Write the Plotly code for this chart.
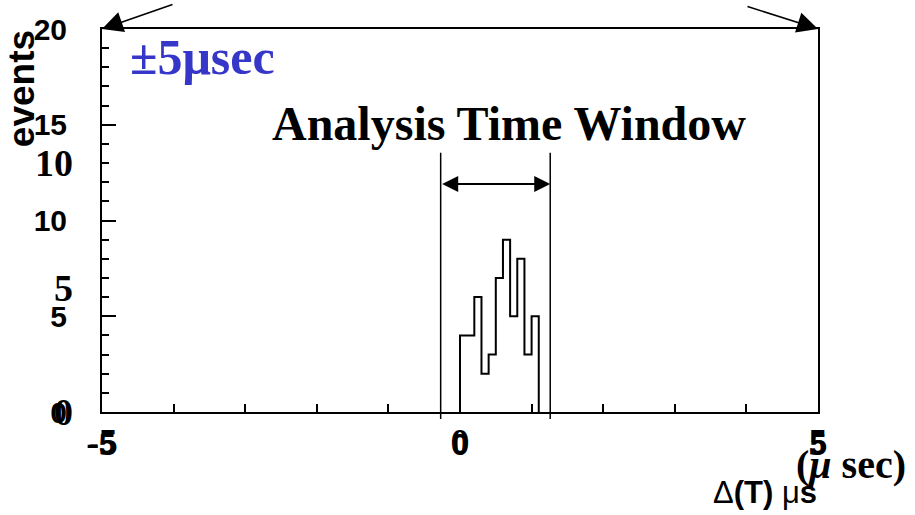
import plotly.graph_objects as go

# ---- data ----
bin_edges = [0.0, 0.1, 0.2, 0.3, 0.4, 0.5, 0.6, 0.7, 0.8, 0.9, 1.0, 1.1]
counts = [4, 4, 6, 2, 3, 7, 9, 5, 8, 3, 5]
window_lo, window_hi = -0.27, 1.26
x_ticks = [-5, 0, 5]
y_ticks_sans = [0, 5, 10, 15, 20]
y_ticks_serif = [0, 5, 10]

SANS = "Liberation Sans Narrow, Liberation Sans, Arial, sans-serif"
SERIF = "Liberation Serif, Times New Roman, serif"
BLUE = "#3636C8"

# step outline (ROOT style)
xs = [bin_edges[0]] + bin_edges[:-1] + [bin_edges[-1]]
ys = [0] + counts + [0]

fig = go.Figure()
fig.add_trace(go.Scatter(x=xs, y=ys, mode="lines", line=dict(color="black", width=2, shape="hv"),
                         showlegend=False, hoverinfo="skip"))
fig.add_trace(go.Scatter(x=[None], y=[None], xaxis="x2", yaxis="y2", showlegend=False))

fig.update_layout(
    width=915, height=515,
    margin=dict(l=102, r=97, t=22, b=103),
    paper_bgcolor="white", plot_bgcolor="white",
    xaxis=dict(range=[-5, 5], showline=True, linecolor="black", linewidth=2, mirror=True,
               showgrid=False, zeroline=False,
               tickvals=x_ticks, ticktext=[str(v) for v in x_ticks],
               ticks="inside", ticklen=8, tickwidth=1.5, tickcolor="black",
               minor=dict(dtick=1, ticks="inside", ticklen=8, tickwidth=1.5, tickcolor="black"),
               tickfont=dict(family=SANS, size=30, color="black", weight="bold"),
               ticklabelstandoff=4),
    xaxis2=dict(range=[-5, 5], overlaying="x", anchor="y", side="bottom", showline=False,
                showgrid=False, zeroline=False, ticks="",
                tickvals=x_ticks, ticktext=[str(v) for v in x_ticks],
                tickfont=dict(family=SERIF, size=38, color="black", weight="bold"),
                ticklabelstandoff=4),
    yaxis=dict(range=[0, 20], showline=True, linecolor="black", linewidth=2, mirror=True,
               showgrid=False, zeroline=False,
               tickvals=y_ticks_sans, ticktext=[str(v) for v in y_ticks_sans],
               ticks="inside", ticklen=14, tickwidth=1.5, tickcolor="black",
               minor=dict(dtick=1, ticks="inside", ticklen=7, tickwidth=1.5, tickcolor="black"),
               tickfont=dict(family=SANS, size=30, color="black", weight="bold"),
               ticklabelstandoff=27),
    yaxis2=dict(range=[0, 15.35], overlaying="y", anchor="x", side="left", showline=False,
                showgrid=False, zeroline=False, ticks="",
                tickvals=y_ticks_serif, ticktext=[str(v) for v in y_ticks_serif],
                tickfont=dict(family=SERIF, size=38, color="black", weight="bold"),
                ticklabelstandoff=28),
)

# analysis window lines
for xv in (window_lo, window_hi):
    fig.add_shape(type="line", xref="x", yref="paper", x0=xv, x1=xv, y0=-0.018, y1=0.677,
                  line=dict(color="black", width=1.5))

# double arrow
fig.add_annotation(x=window_hi, y=11.9, ax=window_lo, ay=11.9, xref="x", yref="y", axref="x", ayref="y",
                   text="", showarrow=True, arrowhead=2, arrowside="end+start", arrowsize=1.6,
                   arrowwidth=2, arrowcolor="black", standoff=0, startstandoff=0)

# corner arrows
fig.add_annotation(x=-5, y=20, xref="x", yref="y", ax=72, ay=-25, text="", showarrow=True,
                   arrowhead=2, arrowsize=2.6, arrowwidth=1.6, arrowcolor="black", standoff=0)
fig.add_annotation(x=5, y=20, xref="x", yref="y", ax=-72, ay=-23, text="", showarrow=True,
                   arrowhead=2, arrowsize=2.6, arrowwidth=1.6, arrowcolor="black", standoff=0)

# texts
fig.add_annotation(x=0.68, y=15.05, xref="x", yref="y", text="<b>Analysis Time Window</b>",
                   showarrow=False, xanchor="center", yanchor="middle",
                   font=dict(family=SERIF, size=48, color="black"))
fig.add_annotation(x=-4.63, y=18.55, xref="x", yref="y", text="<b>±5μsec</b>",
                   showarrow=False, xanchor="left", yanchor="middle",
                   font=dict(family=SERIF, size=50, color=BLUE))
fig.add_annotation(x=-0.112, y=0.845, xref="paper", yref="paper", text="<b>events</b>", textangle=-90,
                   showarrow=False, xanchor="center", yanchor="middle",
                   font=dict(family=SANS, size=37, color="black"))
fig.add_annotation(x=0.926, y=-0.21, xref="paper", yref="paper", text="Δ<b>(T)</b> μ<b>s</b>",
                   showarrow=False, xanchor="center", yanchor="middle",
                   font=dict(family=SANS, size=31, color="black"))
fig.add_annotation(x=1.046, y=-0.136, xref="paper", yref="paper", text="<b>(<i>μ</i> sec)</b>",
                   showarrow=False, xanchor="center", yanchor="middle",
                   font=dict(family=SERIF, size=40, color="black"))

fig.write_html("out.html")
